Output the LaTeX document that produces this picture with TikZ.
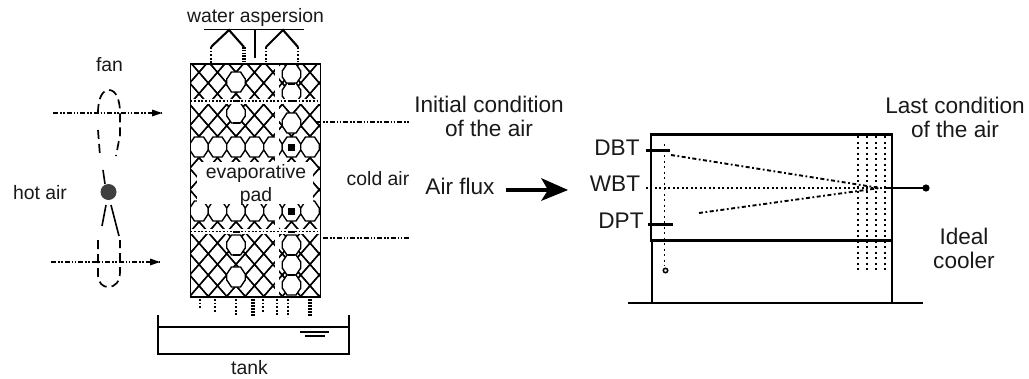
\documentclass[tikz,border=0pt]{standalone}
\usepackage{fontspec}
\setmainfont{Liberation Sans}
\usetikzlibrary{arrows.meta}
\tikzset{
 x=1pt,y=-1pt,
 lbl/.style={inner sep=0pt,font=\fontsize{19.4}{23}\selectfont,align=center,text=black!90},
 lblb/.style={inner sep=0pt,font=\fontsize{22.6}{24}\selectfont,align=center,text=black!90},
 dotline/.style={line width=1.7pt,dash pattern=on 1.8pt off 1.8pt},
 dashdot/.style={line width=1.7pt,dash pattern=on 5pt off 2pt on 1.5pt off 1.5pt on 1.5pt off 2pt},
 fanline/.style={line width=1.7pt,dash pattern=on 9pt off 5pt},
 pat/.style={line width=1.4pt},
 thin1/.style={line width=1.5pt},
 trend/.style={line width=1.9pt,dash pattern=on 4pt off 2.5pt on 1.8pt off 2.5pt},
 grid1/.style={line width=1.9pt,dash pattern=on 2pt off 3.5pt},
}
\newcommand{\octa}[2]{%
 \filldraw[pat,fill=white] (#1-9.25,#2-3) -- (#1-4.5,#2-10) -- (#1+4.5,#2-10) -- (#1+9.25,#2-3) -- (#1+9.25,#2+3) -- (#1+4.5,#2+10) -- (#1-4.5,#2+10) -- (#1-9.25,#2+3) -- cycle;}
\begin{document}
\begin{tikzpicture}
\useasboundingbox (0,0) rectangle (1029,378);
% pad pattern
\begin{scope}
\clip (190.5,64) rectangle (320.5,297);
\foreach \k in {-9,...,16}{
 \pgfmathsetmacro{\yc}{147+10.67*\k}
 \foreach \n in {-6,...,10}{
  \pgfmathtruncatemacro{\prt}{mod(abs(\n+\k),2)}
  \ifnum\prt=0
   \pgfmathsetmacro{\xc}{236+9.25*\n}
   \draw[pat] (\xc-9.25,\yc) -- (\xc,\yc-10.67) -- (\xc+9.25,\yc) -- (\xc,\yc+10.67) -- cycle;
  \fi
 }
}
\foreach \y in {82,113,245,277}{\octa{236}{\y}}
\foreach \y in {74,93,123,245,265,285}{\octa{291.5}{\y}}
\foreach \x in {199,217.5,236,254.5,273,291.5,310}{\octa{\x}{147}\octa{\x}{211}}
\fill[white] (197,162) rectangle (313,204);
\fill[white] (274.5,64) rectangle (279,297);
\fill[white] (190.5,99) rectangle (320.5,103.5);
\fill[white] (190.5,229) rectangle (320.5,233.5);
\draw[dotline] (190.5,101) -- (320.5,101);
\draw[dotline] (190.5,231.5) -- (320.5,231.5);
\foreach \x/\y in {236/101,236/123,291.5/84,291.5/101,236/232,236/255,291.5/232,291.5/255,291.5/275}{
 \fill (\x-3.5,\y-1.4) rectangle (\x+3.5,\y+1.4);
}
\fill (288,143.5) rectangle (295,150.5);
\fill (288,207.5) rectangle (295,214.5);
\end{scope}
\draw[line width=1.8pt] (190.5,64) rectangle (320.5,297);
% labels
\node[lbl] (water) at (255.5,17) {water aspersion};
\node[lbl] (fan) at (109.5,65) {fan};
\node[lbl] (hot) at (40,193) {hot air};
\node[lbl] (evap) at (256,173) {evaporative};
\node[lbl] (padl) at (256,196) {pad};
\node[lbl] (cold) at (378,179) {cold air};
\node[lbl] (tank) at (249.5,368) {tank};
\node[lblb] (init) at (489,116) {Initial condition\\of the air};
\node[lblb] (flux) at (460,186) {Air flux};
\node[lblb] (last) at (955,117) {Last condition\\of the air};
\node[lblb] (ideal) at (964,248) {Ideal\\cooler};
\node[lblb] (dbt) at (617,148) {DBT};
\node[lblb] (wbt) at (615,184) {WBT};
\node[lblb] (dpt) at (621,221) {DPT};
% aspersion
\draw[thin1] (204,29.5) -- (304,29.5);
\draw[thin1] (255,29.5) -- (255,58);
\coordinate (a1) at (211,47); \coordinate (a2) at (229,30); \coordinate (a3) at (244,47);
\coordinate (b1) at (266,47); \coordinate (b2) at (283,30); \coordinate (b3) at (298,47);
\draw[line width=2.1pt] (a1) -- (a2) -- (a3);
\draw[line width=2.1pt] (b1) -- (b2) -- (b3);
\draw[dotline] (a1) -- (211,64);
\draw[line width=3.4pt,dash pattern=on 1.6pt off 1.2pt] (a3) -- (244,62);
\draw[dotline] (b1) -- (266,62);
\draw[dotline] (b3) -- (298,62);
\foreach \x/\a/\b in {200/299/309,215/299/313,236/299/315,263/299/313,277/299/315,288/299/317}{
 \draw[dotline] (\x,\a) -- (\x,\b);
}
\draw[line width=3.4pt,dash pattern=on 1.6pt off 1.4pt] (253,299) -- (253,316);
\draw[line width=3.4pt,dash pattern=on 1.6pt off 1.4pt] (310,299) -- (310,316);
% tank
\draw[line width=1.5pt] (158,315) -- (158,354) -- (349,354) -- (349,315);
\draw[thin1] (158,327) -- (349,327);
\draw[thin1] (300,332) -- (329,332);
\draw[line width=1.8pt] (305,336) -- (325,336);
% fan
\fill[black!75] (108.5,192) circle (8pt);
\draw[fanline] (98,113) .. controls (98,97) and (103,90) .. (109,90) .. controls (116,90) and (120,100) .. (120,113) -- (120,135) -- (116,156);
\draw[fanline] (98,130) -- (100,156);
\draw[line width=1.6pt] (103,170) -- (105,184);
\draw[line width=1.6pt] (106,205) -- (102,226);
\draw[line width=1.6pt] (111,205) -- (119,236);
\draw[fanline] (98,240) -- (98,275) .. controls (98,283) and (103,287) .. (108,287) .. controls (115,287) and (120,282) .. (120,272) -- (120,240);
% flows
\coordinate (h1s) at (53,113); \coordinate (h1e) at (162,113);
\coordinate (h2s) at (51,262); \coordinate (h2e) at (160,262);
\draw[dashdot] (h1s) -- (h1e);
\draw[dashdot] (h2s) -- (h2e);
\fill (h1e) -- ++(-10,-3.5) -- ++(0,7) -- cycle;
\fill (h2e) -- ++(-10,-3.5) -- ++(0,7) -- cycle;
\draw[dashdot] (316,122) -- (409,122);
\draw[dashdot] (323,238) -- (409,238);
% air flux arrow
\coordinate (fs) at (506,190); \coordinate (fe) at (568,190);
\draw[line width=3.6pt] (fs) -- (550,190);
\fill (fe) -- (541,178) -- (548,190) -- (541,201) -- cycle;
% cooler
\draw[line width=1.6pt] (628,303) -- (923,303);
\draw[line width=1.5pt] (652,240) -- (652,303);
\draw[line width=1.5pt] (892,240) -- (892,303);
\draw[line width=2.8pt] (651,134.5) rectangle (892,240.5);
\foreach \x in {858,867,876,885}{
 \draw[grid1] (\x,136) -- (\x,271);
}
\draw[grid1] (664.5,144) -- (664.5,266);
\draw[line width=1.5pt] (665.5,270.5) circle (2.2pt);
\draw[line width=2.2pt] (646,150.5) -- (670,150.5);
\draw[line width=2.2pt] (648,224.5) -- (673,224.5);
\draw[trend] (671,155) -- (880,188);
\draw[line width=1.8pt,dash pattern=on 2pt off 2pt on 2pt off 3pt] (646,188) -- (885,188);
\draw[trend] (699,213) -- (880,188);
\draw[line width=1.8pt] (885,188) -- (926,188);
\fill (926,188) circle (3.6pt);
\end{tikzpicture}
\end{document}
